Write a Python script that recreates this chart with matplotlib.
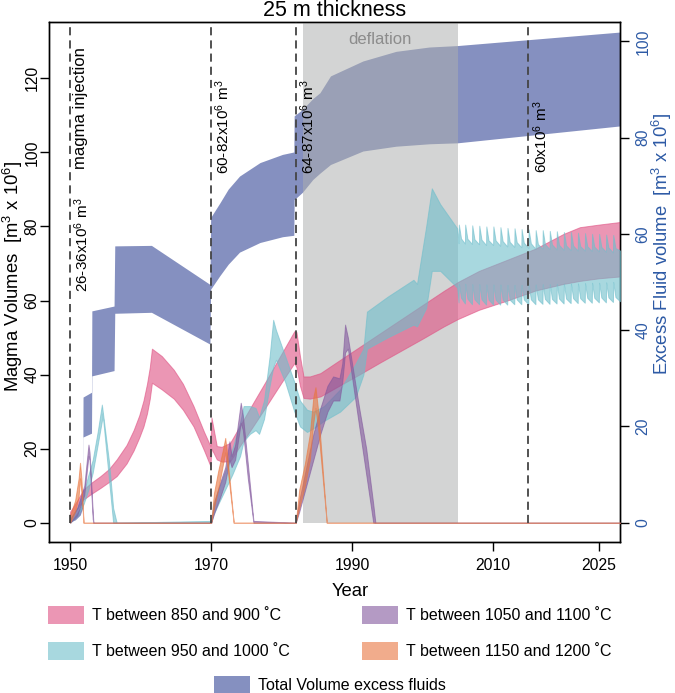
import matplotlib
matplotlib.use('Agg')
import matplotlib.pyplot as plt
from matplotlib.patches import Rectangle

plt.rcParams['font.family'] = ['Liberation Sans', 'DejaVu Sans']
plt.rcParams['mathtext.fontset'] = 'custom'
plt.rcParams['mathtext.rm'] = 'Liberation Sans'
plt.rcParams['mathtext.it'] = 'Liberation Sans:italic'
plt.rcParams['mathtext.bf'] = 'Liberation Sans:bold'

# ---------------- data ----------------
# T between 850 and 900 C  (left axis, magma volume)
pink_years = [1950, 1950.5, 1951, 1951.9, 1953, 1954.3, 1955.5, 1956.6, 1958, 1959,
              1959.8, 1960.4, 1960.9, 1961.3, 1961.6, 1963, 1964.7, 1966, 1967.5, 1969,
              1969.9, 1970.05, 1970.8, 1971.5, 1972.7, 1974, 1976, 1978, 1980, 1981.8,
              1982.1, 1982.6, 1983.1, 1984, 1985.5, 1988, 1991, 1994, 1997, 2000,
              2003, 2005, 2008, 2012, 2016, 2020, 2022.3, 2025, 2028]
pink_low = [0.5, 2.5, 3.8, 6.3, 7.8, 9.4, 11, 12.6, 16, 19.5,
            23, 26, 29.5, 33.5, 37.8, 36, 33.5, 30.5, 26, 19.5,
            15.3, 20, 17.1, 16.5, 16.6, 20.5, 26.2, 32, 37.9, 43.1,
            42, 37, 33.7, 33.5, 34.1, 36.8, 40, 43.3, 46.5, 49.7,
            53, 55, 57.5, 60, 62.7, 64.5, 65.3, 66, 66.5]
pink_high = [3, 4.5, 6, 9, 10.8, 12.6, 14.5, 17.1, 21, 25,
             29, 33, 37.5, 42, 47, 45, 41.3, 37.5, 31.5, 24.5,
             20.7, 28.4, 20.7, 20.5, 21.6, 25.9, 32.5, 39, 45.7, 51.7,
             51.5, 45, 39.5, 39.5, 40.4, 43.6, 47.4, 51.2, 55, 58.8,
             62.6, 65, 68, 71, 74, 78, 79.8, 80.5, 81.2]

# T between 950 and 1000 C
cyan_years = [1950, 1951, 1951.9, 1952.6, 1953.2, 1953.9, 1954.5, 1954.6, 1955.5, 1956.1,
              1956.6, 1970, 1970.3, 1971, 1972, 1973, 1974.1, 1974.6, 1975.5, 1976.3,
              1976.8, 1977.5, 1978.3, 1978.8, 1979.2, 1980.5, 1981.8, 1982.6, 1983.6, 1984.5,
              1986, 1988.3, 1990.5, 1991.6, 1992.1, 1995, 1998.7, 1999.2, 2000.5, 2001.3,
              2002.5, 2004.9]
cyan_low = [0, 2, 5, 9, 13.5, 21, 27.5, 29.5, 11.8, 0,
            0, 0, 2, 5, 9, 13, 18, 22, 24, 25,
            24, 28, 37, 42, 44, 38, 30, 26, 24.5, 25.5,
            27.5, 30, 34, 40, 47, 50, 53.5, 53, 58, 68,
            68, 63.5]
cyan_high = [1, 4, 8, 13, 17, 24.5, 31.9, 30.4, 16.7, 4,
             0, 0.5, 5, 9, 14, 20, 27, 31.5, 31.5, 31,
             28.5, 33, 45, 54.8, 52, 45, 38, 33, 30.5, 30,
             31.5, 36, 43, 47, 57, 61, 65.6, 64.5, 80, 90.3,
             86, 79.5]
# yearly saw-teeth after 2005
cyan_tooth_years = [2005.1, 2006.0, 2007.0, 2008.0, 2009.0, 2010.0, 2011.0, 2012.0,
                    2013.0, 2014.0, 2015.0, 2016.0, 2017.0, 2018.0, 2019.0, 2020.0,
                    2021.0, 2022.0, 2023.0, 2024.0, 2025.0, 2026.0, 2027.0]
cyan_up_peak = [80.5, 80.5, 80.3, 80.2, 80.0, 80.0, 79.8, 79.6, 79.5, 79.3, 79.2, 79.0,
                79.0, 78.8, 78.7, 78.5, 78.5, 78.3, 78.2, 78.0, 78.0, 77.8, 77.7]
cyan_up_trough = [75.5, 75.4, 75.3, 75.2, 75.0, 75.0, 74.8, 74.6, 74.5, 74.4, 74.2, 74.0,
                  74.0, 73.9, 73.8, 73.7, 73.6, 73.5, 73.5, 73.4, 73.3, 73.2, 73.0]
cyan_lo_peak = [64.5, 64.5, 64.4, 64.4, 64.3, 64.3, 64.3, 64.2, 64.2, 64.2, 64.3, 64.3,
                64.4, 64.4, 64.5, 64.5, 64.6, 64.6, 64.7, 64.8, 64.8, 64.9, 65.0]
cyan_lo_trough = [59.5, 59.2, 59.0, 59.0, 58.9, 58.9, 58.9, 58.9, 59.0, 59.0, 59.0, 59.0,
                  59.1, 59.1, 59.2, 59.2, 59.3, 59.3, 59.4, 59.4, 59.5, 59.5, 59.6]
cyan_end = (2028, 73.5, 59.8)

# T between 1050 and 1100 C
purple_years = [1950, 1951, 1952.0, 1952.6, 1952.75, 1953.2, 1953.3, 1970, 1970.5, 1971.3,
                1972.0, 1972.6, 1972.9, 1973.4, 1974.2, 1974.5, 1975.2, 1976.0, 1982, 1982.5,
                1983.5, 1984.5, 1985.5, 1986.5, 1987.3, 1988.2, 1988.6, 1989.0, 1989.4, 1991,
                1992, 1993.0, 1993.3, 2028]
purple_low = [0, 2, 7.5, 18, 17, 1, 0, 0, 3, 7,
              11, 17, 15, 17, 27, 25, 12, 0, 0, 3,
              10, 17, 24, 30, 33, 33, 38, 46, 47, 26,
              13, 0, 0, 0]
purple_high = [1, 4, 10, 21.1, 19, 3, 0, 0, 6, 11,
               15, 22, 18, 21, 32.4, 29, 16, 0.5, 0, 6,
               15, 24, 31, 37, 39.5, 39, 43, 53.5, 50, 31,
               20, 5, 0, 0]

# T between 1150 and 1200 C
orange_years = [1950, 1950.7, 1951.2, 1951.4, 1951.6, 1951.9, 1970, 1970.4, 1971, 1971.7,
                1972.0, 1972.3, 1973.2, 1982, 1982.5, 1983.3, 1984.0, 1984.5, 1984.8, 1985.2,
                1986.4, 2028]
orange_low = [0, 3, 7, 12, 8, 0, 0, 4, 9, 16, 19, 15, 0, 0, 4, 10, 17, 27, 31, 25, 0, 0]
orange_high = [2, 6, 12, 16.2, 12, 0, 0, 8, 14, 20, 22.9, 18, 0, 0, 9, 16, 24, 34, 36.6, 30, 0, 0]

# Total volume of excess fluids (right axis)
navy_years = [1950, 1950.8, 1951.5, 1951.85, 1951.9, 1953.1, 1953.15, 1956.3, 1956.4, 1961.6,
              1969.9, 1970.0, 1971.3, 1972.5, 1974.1, 1977.0, 1980.2, 1981.8, 1981.85, 1983.0,
              1984.5, 1985.5, 1987.0, 1991.6, 1996.3, 2001.0, 2005.0, 2028.0]
navy_low = [0, 0.5, 1.5, 3, 17.7, 18.5, 30.4, 31.5, 43.4, 43.6,
            37.0, 48.4, 51.2, 53.6, 56.1, 58.1, 59.3, 59.6, 67.0, 68.5,
            71.2, 72.5, 74.3, 77.1, 78.1, 78.6, 78.8, 82.3]
navy_high = [0, 1.5, 3, 5, 26.0, 27.0, 43.9, 44.9, 57.4, 57.5,
             49.4, 63.3, 66.3, 69.2, 71.9, 74.7, 76.4, 76.9, 84.4, 85.7,
             88.0, 89.2, 92.7, 95.8, 97.8, 98.7, 99.0, 101.8]

injection_years = [1950, 1970, 1982, 2015]
injection_labels = ['26-36x10$^6$ m$^3$', '60-82x10$^6$ m$^3$',
                    '64-87x10$^6$ m$^3$', '60x10$^6$ m$^3$']
injection_label_tops = [87.8, 119.6, 119.6, 114.1]
deflation_period = (1983, 2005)

x_ticks = [1950, 1970, 1990, 2010, 2025]
left_ticks = [0, 20, 40, 60, 80, 100, 120]
right_ticks = [0, 20, 40, 60, 80, 100]

# ---------------- styling ----------------
PINK = '#df5082'
CYAN = '#6ebecb'
PURPLE = '#82579d'
ORANGE = '#e9763f'
NAVY = '#344696'
GRAY = '#adafae'
BLUE = '#2d5aa5'
ALPHA = 0.6

W, H = 675, 693
fig = plt.figure(figsize=(W / 100, H / 100), dpi=100)


def fx(px):
    return px / W


def fy(py):
    return 1 - py / H


ax = fig.add_axes([fx(49), fy(542), fx(620) - fx(49), fy(22) - fy(542)])
ax2 = ax.twinx()
ax.set_zorder(ax2.get_zorder() + 1)
ax.patch.set_visible(False)

XLIM = (1947.0, 2028.0)
YLIM = (-5.2, 135.2)
ax.set_xlim(*XLIM)
ax.set_ylim(*YLIM)
ax2.set_ylim(-4, 104)
zero_frac = (0 - YLIM[0]) / (YLIM[1] - YLIM[0])

# total excess fluids (under everything)
ax2.fill_between(navy_years, navy_low, navy_high, facecolor=NAVY, alpha=ALPHA, linewidth=0)

# deflation period
ax.axvspan(deflation_period[0], deflation_period[1], ymin=zero_frac, ymax=1,
           color=GRAY, alpha=0.53, linewidth=0, zorder=0.5)
ax.text(sum(deflation_period) / 2, 130.6, 'deflation', color='#8c8c8c', fontsize=12,
        ha='center', va='center', zorder=1)

# cyan band incl. saw-teeth (sharp rise, fast decay, slow tail)
cx, clo, chi = list(cyan_years), list(cyan_low), list(cyan_high)
for t, hp, ht, lp, lt in zip(cyan_tooth_years, cyan_up_peak, cyan_up_trough,
                             cyan_lo_peak, cyan_lo_trough):
    cx += [t, t + 0.04, t + 0.35]
    chi += [ht, hp, ht + 0.25 * (hp - ht)]
    clo += [lt, lp, lt + 0.25 * (lp - lt)]
cx.append(cyan_end[0])
chi.append(cyan_end[1])
clo.append(cyan_end[2])


def band(x, lo, hi, color, z):
    ax.fill_between(x, lo, hi, facecolor=color, edgecolor=color, linewidth=0.7,
                    alpha=ALPHA, zorder=z)


band(pink_years, pink_low, pink_high, PINK, 2)
band(cx, clo, chi, CYAN, 3)
band(purple_years, purple_low, purple_high, PURPLE, 4)
band(orange_years, orange_low, orange_high, ORANGE, 5)

# injections
for yr, lab, top in zip(injection_years, injection_labels, injection_label_tops):
    ax.axvline(yr, ymin=zero_frac, ymax=1, color='#444444', linewidth=1.3,
               dashes=(4.5, 2.8), zorder=6)
    ax.text(yr + 1.7, top, lab, rotation=90, ha='center', va='top', fontsize=11, zorder=7)
ax.text(injection_years[0] + 1.4, 128.5, 'magma injection', rotation=90, ha='center',
        va='top', fontsize=12, zorder=7)

# axes
for a in (ax, ax2):
    for s in a.spines.values():
        s.set_linewidth(1.0)
ax.set_xticks(x_ticks)
ax.set_yticks(left_ticks)
ax2.set_yticks(right_ticks)
ax.tick_params(axis='x', length=6.5, width=1, pad=5, labelsize=11.3)
ax.tick_params(axis='y', length=6.5, width=1, pad=0.5, labelsize=11.3, labelrotation=90)
ax2.tick_params(axis='y', length=6.5, width=1, pad=4.5, labelsize=11.3, labelrotation=90,
                labelcolor=BLUE)
for lab in ax.get_yticklabels() + ax2.get_yticklabels():
    lab.set_va('center')

fig.text(fx(334.5), fy(16.5), '25 m thickness', fontsize=15.5, ha='center', va='baseline')
fig.text(fx(350), fy(595.5), 'Year', fontsize=13.3, ha='center', va='baseline')
fig.text(fx(13), fy(276.5), 'Magma Volumes  [m$^3$ x 10$^6$]', fontsize=13.3,
         rotation=90, ha='center', va='center')
fig.text(fx(662), fy(244), 'Excess Fluid volume  [m$^3$ x 10$^6$]', fontsize=13.3,
         rotation=90, ha='center', va='center', color=BLUE)

# legend (drawn by hand to match the 2+2+1 layout)
legend_items = [
    (PINK, 'T between 850 and 900 ˚C', 48, 606),
    (CYAN, 'T between 950 and 1000 ˚C', 48, 642),
    (PURPLE, 'T between 1050 and 1100 ˚C', 362, 606),
    (ORANGE, 'T between 1150 and 1200 ˚C', 362, 642),
    (NAVY, 'Total Volume excess fluids', 214, 676),
]
for color, label, px, py in legend_items:
    fig.add_artist(Rectangle((fx(px), fy(py + 17.5)), 36 / W, 17.5 / H,
                             transform=fig.transFigure, facecolor=color, alpha=ALPHA,
                             edgecolor='none'))
    fig.text(fx(px + 44), fy(py + 9), label, fontsize=11.5, ha='left', va='center')

fig.savefig('out.png', dpi=100)
